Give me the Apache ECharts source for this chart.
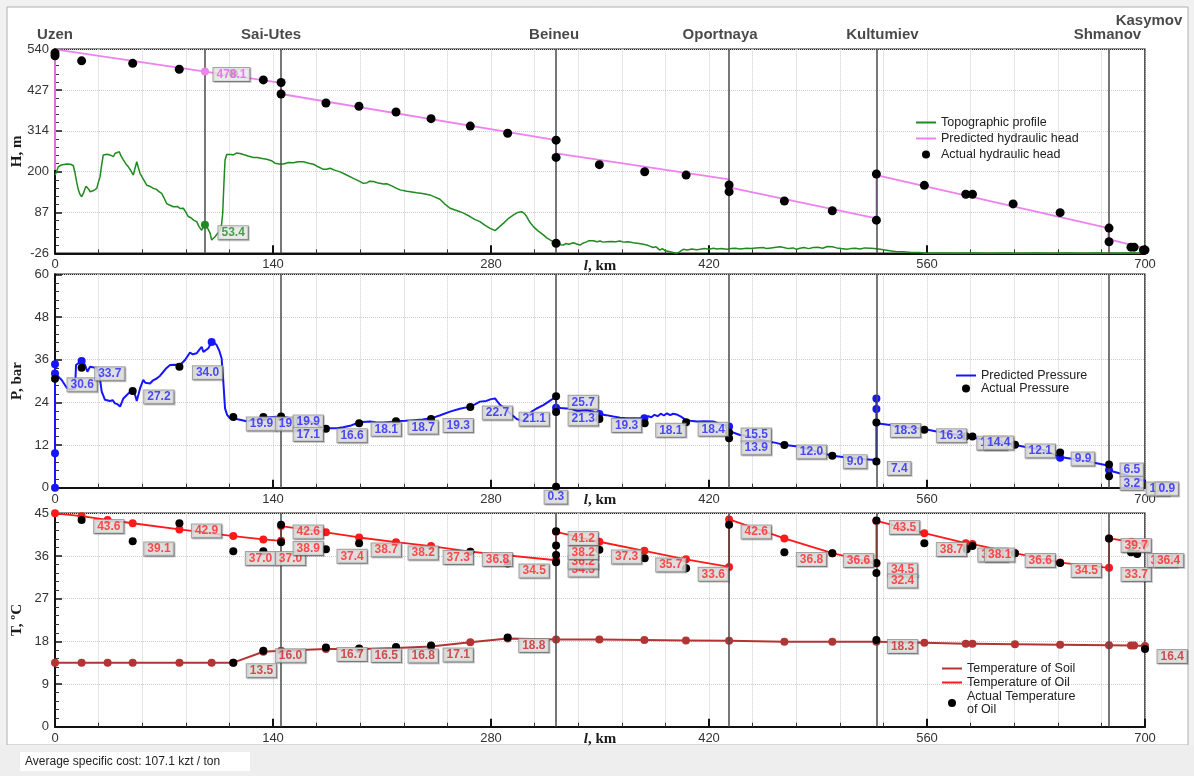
<!DOCTYPE html>
<html><head><meta charset="utf-8">
<script src="https://cdn.jsdelivr.net/npm/echarts@6/dist/echarts.min.js"></script>
<style>html,body{margin:0;padding:0;background:#f0f0f0;}#c{width:1194px;height:776px;}</style>
</head><body><div id="c"></div>
<script>
// ---------------- DATA ----------------
const kmTicks = [0, 140, 280, 420, 560, 700];
const headTicks = [-26, 87, 200, 314, 427, 540];
const pressureTicks = [0, 12, 24, 36, 48, 60];
const tempTicks = [0, 9, 18, 27, 36, 45];

const stationNames = ['Uzen', 'Sai-Utes', 'Beineu', 'Oportnaya', 'Kultumiev', 'Shmanov', 'Kasymov'];
const stationKm = [0, 145.2, 321.8, 432.9, 527.5, 676.5, 700];
const stationLineKm = [145.2, 321.8, 432.9, 527.5, 676.5];
const headMarkerKm = [96.3];

const topoProfile = [[0,191],[1,200],[2.1,214],[4,219],[7.5,222],[10,221],[11.8,217],[12.9,196],[14,170],[15,150],[16,138],[17.1,131],[18.2,140],[19.3,154],[20,160],[20.8,163],[21.6,152],[22.5,145],[24,147],[25.5,150],[26.8,154],[27.8,170],[28.9,186],[30,220],[31,247],[32,246],[33.5,249],[35.3,247],[36.4,250],[37.5,242],[38.5,251],[39.5,255],[41.3,256],[42.3,245],[43.9,233],[45.5,222],[47.1,214],[48.5,205],[50.3,191],[51.4,210],[52.5,228],[53.5,212],[54.6,196],[56.7,180],[58.9,163],[61,160],[63.2,154],[65,152],[66.8,145],[68.5,140],[70,128],[71.7,112],[73.5,108],[76,103],[78.5,104],[80.5,98],[82.4,99],[84,88],[85.6,76],[87.5,72],[89,66],[91,62],[92.5,48],[94.2,38],[95.3,48],[96.3,53.4],[97.5,48],[98.5,43],[99.6,30],[100.6,11],[101.8,14],[102.8,20],[104.5,30],[106,38],[107,55],[107.7,85],[108.5,170],[109.2,233],[110.3,248],[111.3,251],[113,248],[114.5,247],[116.5,252],[118.8,251],[121,248],[124,244],[127.4,240],[130,240],[133,237],[136,235],[139,231],[141.3,224],[144,222],[146.7,222],[150,226],[153.1,225],[156,228],[159.5,228],[163,224],[166,221],[169,214],[172.4,207],[174.5,207],[176.6,210],[180,204],[183.1,200],[187,192],[191.6,182],[195,175],[198,168],[200.5,170],[202,174],[204.5,173],[207,170],[210.9,166],[213,167],[216.3,161],[219,155],[221.6,150],[226,146],[232.3,142],[236,140],[240.8,136],[244,130],[247.2,124],[250,112],[253.7,99],[257,94],[260.1,89.5],[263,84],[266.5,76],[269.5,68],[272.9,62],[276,52],[279.4,43],[282.6,37],[285,46],[287.9,57],[291,70],[294.3,80],[297,87],[299.7,89.5],[301.5,84],[302.9,76],[305,60],[307.2,48],[310,37],[313.6,25],[316,16],[317.9,11],[320,6],[321.7,3.4],[323,0],[324.5,-2],[326.5,-3],[328,1],[330,-1],[332.9,3.4],[335,0],[337.2,-3],[339,2],[341,5],[343,9],[345.7,9],[348,6],[350,8],[352,5],[354.3,6],[357,7],[360,6],[362.9,8],[365,5],[368,6],[371.4,3.4],[374,2],[377,0],[380,-3],[382,-6],[384,-10],[386,-8],[388.5,-17],[390,-13],[392,-19],[395,-21.6],[397,-24],[399.2,-26],[401,-22],[403.5,-15],[406,-17],[409,-14],[412,-16],[414.2,-15],[417,-13],[420,-15],[422.8,-12],[425,-14],[428,-13],[431.4,-15],[434,-13],[437,-12],[440,-14],[444.2,-12],[447,-13],[450,-11],[454.9,-10],[457,-13],[460,-11],[463,-9],[465.6,-7.7],[468,-10],[471,-13],[474,-11],[476.3,-15],[478.4,-12],[481,-10],[484,-13],[487,-10],[490,-9],[493,-12],[496,-7],[499.2,-7.7],[502,-11],[505,-13],[508.4,-15],[511,-13],[514,-12],[517,-14],[520,-11],[523.4,-12],[526,-13],[530,-15],[535,-18],[540.5,-21.6],[545,-22],[550,-24],[555,-24],[559.8,-26],[570,-25],[580,-26],[590,-25],[600,-26],[610,-25],[620,-26],[630,-25],[640,-26],[650,-25],[660,-26],[670,-25],[680,-26],[690,-25],[700,-26]];

const headPredicted = [[0,205],[0,540],[145.2,447],[145.2,416],[321.8,288],[321.8,251],[432.9,179],[432.9,157],[527.5,71],[527.5,191],[676.5,44],[676.5,13],[700,-12]];
const headActual = [[0,530],[0,522],[17.1,508],[49.9,501],[79.8,484.5],[114.5,473],[133.8,455],[145.2,448],[145.2,416],[174,391],[195.2,382],[219,366],[241.5,347.5],[266.7,327],[290.7,307],[321.8,288],[321.8,240],[321.8,2],[349.6,220],[378.7,200.4],[405.3,191],[432.9,163.5],[432.9,145],[468.4,119],[499.2,92],[527.5,66],[527.5,194],[558.3,162.6],[584.9,137.7],[589.2,137.7],[615.3,111],[645.5,86.7],[676.9,44],[676.9,6],[691,-9],[693,-9],[699,-17],[700,-17]];
const headNote = [[96.3, 478.1]];
const topoNote = [[96.3, 53.4]];

const pressurePredicted = [[0,0],[0,34.7],[0,32.1],[1.1,31.7],[4.3,30.3],[7.5,28.1],[10,27.6],[12.9,27.9],[13.5,34.5],[15,35],[17.1,35.6],[19.3,34.5],[20.8,32.6],[22.5,34],[25,33.8],[26.8,33.7],[28.5,31.7],[30,27],[32.1,24.7],[35.3,24.4],[37,24.6],[38.5,23.7],[40,23.5],[41.8,22.8],[43.9,25.1],[45,25.4],[47.1,26.5],[49.9,27.5],[51.5,26],[52.5,24.4],[54.6,27.9],[56.7,30.3],[58,29.5],[61,29.3],[63,30.2],[65.3,30.7],[67.5,31.5],[69.6,32.6],[71.5,33.6],[73.9,34.5],[77,34.6],[80.3,34.5],[83.5,35.9],[86.7,38],[88.5,37.5],[91,37.8],[92.5,38.7],[94.2,39.6],[95.3,38.2],[96.4,38],[98.5,39.2],[100.6,41],[102,40.8],[103.8,40.1],[105.5,38.5],[107,36.4],[108.1,29.8],[109.2,22.3],[110.5,20.5],[112.4,19.5],[114.5,19.5],[118,19.2],[123.1,18.7],[128,19.1],[133.8,19.7],[140,19.9],[145.2,20],[151,19.5],[157,19.2],[163.8,18.6],[168,17.8],[171,17],[174,16.7],[180.9,16.7],[185,17],[189.5,17.4],[195.3,18.4],[202.3,18.6],[206,18.4],[210.9,18.3],[215,18.5],[219,18.7],[225,18.8],[230.1,19],[236,19.2],[241.5,19.5],[247,20.3],[253.7,21.4],[260,22.2],[266.7,22.8],[270,23.5],[272.9,24.2],[277,24.4],[280,24.9],[282.6,25.1],[284,24.3],[286,23.2],[289,22.3],[292,21],[296.5,19.3],[300.8,18.7],[303,19.8],[306.1,21.4],[309,22.2],[313.6,23.2],[317,24.2],[321.8,25.6],[321.8,22.5],[325,22.4],[328.6,22.3],[332,22.1],[335,21.6],[337.2,21.6],[341,21.8],[345.7,21.4],[349.6,20.7],[354,20.4],[358.6,20],[363,19.7],[367.1,19.5],[372,19.5],[378.5,19.5],[381,20.1],[383,19.8],[385,20.5],[387,20.1],[389,20.8],[391,20.3],[393,20.9],[395,20.4],[397,20.8],[399.2,20.6],[402,20],[405.2,19],[408,18.8],[412.1,18.6],[417,18.7],[422.8,18.6],[428,17.8],[432.9,17.2],[432.9,15.7],[435,15.6],[439.9,14.8],[445,14.5],[450.6,13.7],[458,13],[463,12.6],[468.4,12],[473,11.8],[478.4,11.5],[485,10.7],[492,9.8],[499.2,9],[506,8.6],[513,8.3],[520,8],[527.5,7.8],[527.5,25.1],[527.5,18.1],[536.3,17.6],[545,17.1],[552,16.8],[558.3,16.5],[566.2,15.8],[575,15.2],[582,14.7],[587.6,14.3],[595,13.6],[605,12.9],[616.5,12],[625,11.3],[635,10.6],[645.5,8.6],[655,8],[665,7.2],[676.9,6.2],[676.9,5],[680,4.5],[690,3.3],[700,1.9]];
const pressureNodes = [[0,0],[0,9.7],[0,32.1],[0,34.7],[17.1,35.6],[100.6,41.0],[321.8,22.5],[349.6,20.7],[378.5,19.5],[432.9,17.2],[527.5,25.1],[527.5,22.1],[645.5,8.4],[676.9,5.0]];
const pressureActual = [[0,30.6],[17.1,33.7],[49.9,27.2],[79.9,34.0],[114.5,19.9],[133.8,19.9],[145.2,20.0],[174,16.6],[195.3,18.1],[219,18.7],[241.5,19.3],[266.7,22.7],[321.8,25.7],[321.8,21.3],[321.8,0.3],[349.6,19.3],[378.7,18.1],[405.3,18.4],[432.9,15.5],[432.9,13.9],[468.4,12.0],[499.2,9.0],[527.5,7.4],[527.5,18.3],[558.3,16.3],[584.9,14.5],[589.2,14.4],[616.5,12.1],[645.5,9.9],[676.9,6.5],[676.9,3.2]];
const pressureNotes = [[0,30.6],[17.1,33.7],[49.9,27.2],[79.9,34.0],[114.5,19.9],[133.8,19.9],[145.2,19.9],[145.2,17.1],[174,16.6],[195.3,18.1],[219,18.7],[241.5,19.3],[266.7,22.7],[290.3,21.1],[321.8,25.7],[321.8,21.3],[321.8,0.3],[349.6,19.3],[378.7,18.1],[405.3,18.4],[432.9,15.5],[432.9,13.9],[468.4,12.0],[499.2,9.0],[527.5,7.4],[527.5,18.3],[558.3,16.3],[584.9,14.5],[589.2,14.4],[615.3,12.1],[645.5,9.9],[676.9,6.5],[676.9,3.2],[700,1.2],[700,0.9]];

const oilPredicted = [[0,45],[17.1,44.4],[33.8,43.6],[49.9,42.9],[79.9,41.6],[114.5,40.2],[133.8,39.5],[145.2,39.2],[145.2,42.3],[174,41],[195.3,39.9],[219,38.9],[241.5,38.1],[266.7,36.9],[321.8,35.1],[321.8,41.1],[349.6,39],[378.5,37.1],[405.2,35.3],[432.9,33.7],[432.9,43.7],[468.4,39.7],[499.2,36.6],[527.5,34.4],[527.5,43.4],[558.3,40.8],[584.9,38.7],[589.2,38.5],[616.5,36.6],[645.5,34.6],[676.9,33.5],[676.9,39.7],[691.5,39],[700,38.6]];
const soilPredicted = [[0,13.5],[17.1,13.5],[33.8,13.5],[49.9,13.5],[79.9,13.5],[100.6,13.5],[114.5,13.5],[133.8,15.8],[145.2,16.0],[174,16.4],[195.3,16.4],[219,16.6],[241.5,16.9],[266.7,17.8],[290.7,18.6],[321.8,18.4],[349.6,18.4],[378.5,18.3],[405.2,18.2],[432.9,18.1],[468.4,17.9],[499.2,17.9],[527.5,17.9],[558.3,17.7],[584.9,17.5],[589.2,17.5],[616.5,17.4],[645.5,17.3],[676.9,17.2],[691,17.1],[693,17.1],[700,17.0]];
const oilActual = [[17.1,43.6],[49.9,39.1],[79.9,42.9],[114.5,37.0],[133.8,37.0],[145.2,42.6],[145.2,38.9],[174,37.4],[195.3,38.7],[266.7,36.9],[290.7,34.4],[321.8,41.2],[321.8,38.2],[321.8,36.2],[321.8,34.7],[349.6,37.3],[378.7,35.5],[405.3,33.4],[432.9,42.6],[468.4,36.8],[499.2,36.6],[527.5,43.5],[527.5,34.5],[527.5,32.4],[558.3,38.7],[585.5,37.4],[589.2,38.1],[616.5,36.6],[645.5,34.5],[676.9,39.7],[691,36.8],[695,36.4]];
const soilActual = [[114.5,13.5],[133.8,16.0],[174,16.7],[195.3,16.5],[219,16.8],[241.5,17.1],[290.7,18.8],[527.5,18.3],[700,16.4]];
const oilNotes = [[17.1,43.6],[49.9,39.1],[79.9,42.9],[114.5,37.0],[133.8,37.0],[145.2,42.6],[145.2,38.9],[174,37.4],[195.3,38.7],[219,38.2],[241.5,37.3],[266.7,36.8],[290.9,34.5],[321.8,34.5],[321.8,36.2],[321.8,38.2],[321.8,41.2],[349.6,37.3],[378.7,35.7],[405.3,33.6],[432.9,42.6],[468.4,36.8],[499.2,36.6],[527.5,43.5],[527.5,34.5],[527.5,32.4],[558.3,38.7],[584.9,38.4],[589.2,38.1],[615.3,36.6],[645.5,34.5],[676.9,39.7],[676.9,33.7],[693,36.8],[699,36.4]];
const soilNotes = [[114.5,13.5],[133.8,16.0],[174,16.7],[195.3,16.5],[219,16.8],[241.5,17.1],[290.7,18.8],[527.5,18.3],[700,16.4]];

// ---------------- LAYOUT (label offsets in px) ----------------
const stationLabelOffsets = [[0,0],[-10,0],[-2,0],[-9,0],[6,0],[-1,0],[4,-14]];
const headNoteOffsets = [[8,3]];
const topoNoteOffsets = [[13,8]];
const pressureNoteOffsets = [[12,6],[13,6],[11,6],[13,6],[13,7],[12,7],[12,5],[12,7.5],[11,7],[12,6],[12,6],[12,6.5],[12,6],[12,6.5],[12,6],[12,7],[-12,10.5],[12,6.5],[11,7],[12,7],[12,2.5],[12,9.7],[12,7],[11,6],[11,7],[14,8],[12,6],[11,7],[11,6.5],[12,6.3],[11,6.5],[11,5.4],[11,7],[1,5.6],[10,4.5]];
const oilNoteOffsets = [[12,6.5],[11,7.7],[12,7.7],[12,7.3],[12,7.3],[12,7.3],[12,6.3],[11,7],[12,6.8],[12,7.4],[12,7.7],[12,7.3],[11,8],[12,7],[12,7],[12,7],[12,7.2],[12,7.2],[11,7.6],[12,7],[12,7.3],[12,7.3],[11,7.4],[13,7],[11,7],[11,8],[12,6.3],[12,10.4],[12,9],[12,7.4],[11,7.4],[12,7],[12,7.6],[13,8.3],[10,6.4]];
const soilNoteOffsets = [[13,8],[12,5],[11,7],[12,7],[12,9],[12,9.4],[11,8],[11,6.6],[12,7.6]];

// ---------------- CHART ----------------
const SANS = 'Arial, "Liberation Sans", sans-serif';
const SERIF = '"Times New Roman", "Liberation Serif", serif';
const chart = echarts.init(document.getElementById('c'), null, {renderer: 'canvas', width: 1194, height: 776});

function rangeOf(t) { return {min: t[0], max: t[t.length - 1], interval: (t[t.length - 1] - t[0]) / (t.length - 1)}; }

function xAxisFor(gi) {
  const r = rangeOf(kmTicks);
  return {
    type: 'value', gridIndex: gi, min: r.min, max: r.max, interval: r.interval,
    name: '{i|l}, km', nameLocation: 'middle', nameGap: 5, nameMoveOverlap: false,
    nameTextStyle: {fontFamily: SERIF, fontWeight: 'bold', fontSize: 15, color: '#1a1a1a',
      rich: {i: {fontFamily: SERIF, fontWeight: 'bold', fontStyle: 'italic', fontSize: 15, color: '#1a1a1a'}}},
    axisLine: {show: true, onZero: false, lineStyle: {color: '#111', width: 2}},
    axisTick: {show: true, inside: true, length: 8, lineStyle: {color: '#111', width: 2}},
    minorTick: {show: true, splitNumber: 5, length: 4, lineStyle: {color: '#333', width: 1}},
    splitLine: {show: true, lineStyle: {color: '#cdcdcd', type: 'dotted', width: 1}},
    minorSplitLine: {show: true, lineStyle: {color: '#cdcdcd', type: 'dotted', width: 1}},
    axisLabel: {fontFamily: SANS, fontSize: 13, color: '#333', margin: 5}
  };
}
function yAxisFor(gi, ticks, name) {
  const r = rangeOf(ticks);
  return {
    type: 'value', gridIndex: gi, min: r.min, max: r.max, interval: r.interval,
    name: name, nameLocation: 'middle', nameGap: 30, nameRotate: 90, nameMoveOverlap: false,
    nameTextStyle: {fontFamily: SERIF, fontWeight: 'bold', fontSize: 15, color: '#1a1a1a'},
    axisLine: {show: true, onZero: false, lineStyle: {color: '#111', width: 2}},
    axisTick: {show: true, inside: true, length: 7, lineStyle: {color: '#111', width: 1.5}},
    minorTick: {show: true, splitNumber: 5, length: 4, lineStyle: {color: '#333', width: 1}},
    splitLine: {show: true, lineStyle: {color: '#cdcdcd', type: 'dotted', width: 1}},
    axisLabel: {fontFamily: SANS, fontSize: 13, color: '#333', margin: 6,
      formatter: v => { let best = ticks[0]; ticks.forEach(t => { if (Math.abs(t - v) < Math.abs(best - v)) best = t; }); return String(best); }}
  };
}
function noteLabel(color, bg) {
  return {show: true, position: 'right', distance: 0, color: color, fontFamily: SANS, fontSize: 12, fontWeight: 'bold',
    backgroundColor: bg || '#e4e4e4', borderColor: '#8c8c8c', borderWidth: 1, padding: [1, 3, 0, 3], lineHeight: 12,
    shadowColor: 'rgba(0,0,0,0.25)', shadowOffsetX: 1, shadowOffsetY: 1, shadowBlur: 0,
    formatter: p => p.value[1].toFixed(1)};
}
function noteSeries(gi, pts, offsets, color, bg) {
  return {type: 'scatter', name: 'notes' + gi + color, xAxisIndex: gi, yAxisIndex: gi, symbolSize: 1, z: 20, silent: true, clip: false,
    itemStyle: {color: 'rgba(0,0,0,0)'}, label: noteLabel(color, bg),
    data: pts.map((v, i) => ({value: v, label: {offset: offsets[i]}}))};
}
function dots(gi, name, pts, color, size, z) {
  return {type: 'scatter', name: name, xAxisIndex: gi, yAxisIndex: gi, symbol: 'circle', symbolSize: size, z: z || 5,
    itemStyle: {color: color, opacity: 1}, data: pts, silent: true};
}
function stationLines(kms) {
  return {silent: true, symbol: ['none', 'none'], label: {show: false}, animation: false,
    lineStyle: {color: '#4a4a4a', width: 1.5, type: 'solid'}, data: kms.map(k => ({xAxis: k}))};
}
const lineItem = name => ({name: name, itemStyle: {opacity: 0}});

const legendText = {fontFamily: SANS, fontSize: 12.5, color: '#222'};
const gridBase = {left: 55, width: 1090, show: true, borderColor: '#222', borderWidth: 1.5, backgroundColor: 'transparent', containLabel: false, outerBoundsMode: 'none'};
const option = {
  animation: false,
  backgroundColor: '#f1f1f1',
  graphic: [
    {type: 'rect', z: -20, silent: true, shape: {x: 7, y: 7, width: 1181, height: 738}, style: {fill: '#ffffff', stroke: '#b0b0b0', lineWidth: 1}},
    {type: 'rect', z: -20, silent: true, shape: {x: 0, y: 745, width: 1194, height: 31}, style: {fill: '#eeeeee'}},
    {type: 'rect', z: -19, silent: true, shape: {x: 20, y: 752, width: 230, height: 19}, style: {fill: '#ffffff'}},
    {type: 'text', z: -18, silent: true, x: 25, y: 761.5, style: {text: 'Average specific cost: 107.1 kzt / ton', fontFamily: SANS, fontSize: 12, fill: '#222', verticalAlign: 'middle'}}
  ],
  grid: [
    Object.assign({top: 49.3, height: 204}, gridBase),
    Object.assign({top: 274.3, height: 213.4}, gridBase),
    Object.assign({top: 513.3, height: 213.4}, gridBase)
  ],
  xAxis: [xAxisFor(0), xAxisFor(1), xAxisFor(2)],
  yAxis: [yAxisFor(0, headTicks, 'H, m'), yAxisFor(1, pressureTicks, 'P, bar'), yAxisFor(2, tempTicks, 'T, ºC')],
  legend: [
    {left: 910, top: 111, orient: 'vertical', itemWidth: 20, itemHeight: 8, itemGap: 3, selectedMode: false, textStyle: legendText,
      data: [lineItem('Topographic profile'), lineItem('Predicted hydraulic head'), 'Actual hydraulic head']},
    {left: 950, top: 364, orient: 'vertical', itemWidth: 20, itemHeight: 8, itemGap: 0, selectedMode: false, textStyle: legendText,
      data: [lineItem('Predicted Pressure'), 'Actual Pressure']},
    {left: 936, top: 657, orient: 'vertical', itemWidth: 20, itemHeight: 8, itemGap: 1, selectedMode: false, textStyle: legendText,
      data: [lineItem('Temperature of Soil'), lineItem('Temperature of Oil'), 'Actual Temperature\nof Oil']}
  ],
  series: [
    // ---- top panel ----
    {type: 'line', name: 'Topographic profile', xAxisIndex: 0, yAxisIndex: 0, symbol: 'none', data: topoProfile,
      color: '#1f8a1f', lineStyle: {color: '#1f8a1f', width: 1.5}, z: 3, silent: true},
    {type: 'line', name: 'Predicted hydraulic head', xAxisIndex: 0, yAxisIndex: 0, symbol: 'none', data: headPredicted,
      color: '#ee82ee', lineStyle: {color: '#ee82ee', width: 1.8}, z: 3, silent: true},
    Object.assign(dots(0, 'Actual hydraulic head', headActual, '#000', 9), {markLine: stationLines(stationLineKm.concat(headMarkerKm))}),
    dots(0, 'headMark', headNote, '#ee82ee', 8, 6),
    dots(0, 'topoMark', topoNote, '#1f8a1f', 8, 6),
    noteSeries(0, headNote, headNoteOffsets, '#ea5cea', '#f2f2f2'),
    noteSeries(0, topoNote, topoNoteOffsets, '#1f8a1f', '#f2f2f2'),
    {type: 'scatter', name: 'stations', xAxisIndex: 0, yAxisIndex: 0, symbolSize: 1, clip: false, silent: true,
      itemStyle: {color: 'rgba(0,0,0,0)'},
      label: {show: true, position: 'top', distance: 6, fontFamily: SANS, fontWeight: 'bold', fontSize: 15, color: '#1a1a1a',
        formatter: p => stationNames[p.dataIndex]},
      data: stationKm.map((k, i) => ({value: [k, headTicks[headTicks.length - 1]], label: {offset: stationLabelOffsets[i]}}))},
    // ---- middle panel ----
    {type: 'line', name: 'Predicted Pressure', xAxisIndex: 1, yAxisIndex: 1, symbol: 'none', data: pressurePredicted,
      color: '#1515ff', lineStyle: {color: '#1515ff', width: 2}, z: 3, silent: true},
    dots(1, 'pressureNodes', pressureNodes, '#1515ff', 8, 4),
    Object.assign(dots(1, 'Actual Pressure', pressureActual, '#000', 8), {markLine: stationLines(stationLineKm)}),
    noteSeries(1, pressureNotes, pressureNoteOffsets, '#2323ff'),
    // ---- bottom panel ----
    {type: 'line', name: 'Temperature of Soil', xAxisIndex: 2, yAxisIndex: 2, symbol: 'none', data: soilPredicted,
      color: '#b23434', lineStyle: {color: '#b23434', width: 2}, z: 3, silent: true},
    dots(2, 'soilNodes', soilPredicted, '#b23434', 8, 4),
    {type: 'line', name: 'Temperature of Oil', xAxisIndex: 2, yAxisIndex: 2, symbol: 'none', data: oilPredicted,
      color: '#ff1a1a', lineStyle: {color: '#ff1a1a', width: 1.8}, z: 3, silent: true},
    dots(2, 'oilNodes', oilPredicted, '#ff1a1a', 8, 4),
    Object.assign(dots(2, 'Actual Temperature\nof Oil', oilActual, '#000', 8), {markLine: stationLines(stationLineKm)}),
    dots(2, 'soilActual', soilActual, '#000', 8),
    noteSeries(2, soilNotes, soilNoteOffsets, '#c82828'),
    noteSeries(2, oilNotes, oilNoteOffsets, '#ff2424')
  ]
};
chart.setOption(option);
</script>
</body></html>
